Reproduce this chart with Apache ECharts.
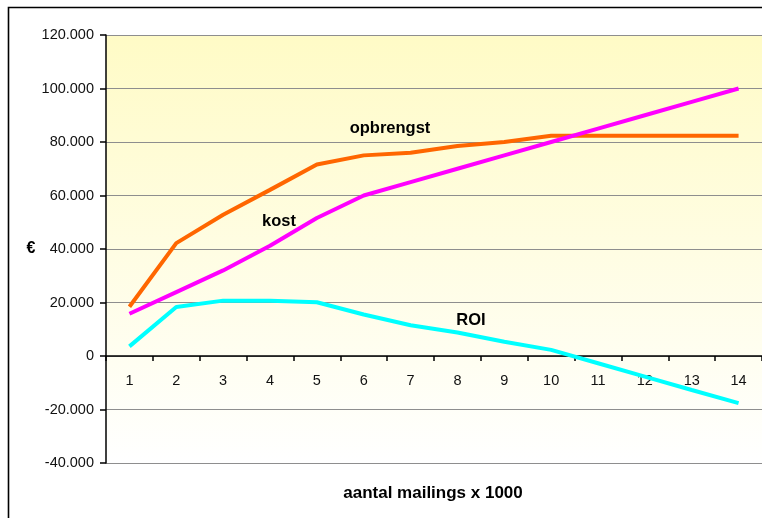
<!DOCTYPE html>
<html>
<head>
<meta charset="utf-8">
<script src="https://cdn.jsdelivr.net/npm/echarts@6/dist/echarts.min.js"></script>
<style>
  html, body { margin: 0; padding: 0; background: #fff; }
  #chart { width: 762px; height: 518px; }
</style>
</head>
<body>
<div id="chart"></div>
<script>
// Number of mailings (x 1000)
const categories = ['1', '2', '3', '4', '5', '6', '7', '8', '9', '10', '11', '12', '13', '14'];

// Revenue, cost and return per step (euro)
const opbrengst = [18400, 42200, 52800, 62100, 71600, 75000, 76000, 78500, 80000, 82300, 82300, 82300, 82300, 82300];
const kost      = [15800, 23900, 32000, 41200, 51600, 60000, 65000, 70000, 75000, 80000, 85000, 90000, 95000, 100000];
const roi       = [3600, 18300, 20700, 20700, 20100, 15500, 11500, 8800, 5300, 2300, -2700, -7700, -12700, -17600];

// Value axis range
const yMin = -40000, yMax = 120000, yStep = 20000;

const FONT = '"Liberation Sans", Arial, sans-serif';

// Plot box
const GRID = { left: 106, top: 35, right: 0, bottom: 55 };
const plotHeight = 518 - GRID.top - GRID.bottom;
// Category axis sits on the zero line, labels included
const zeroOffset = plotHeight * (0 - yMin) / (yMax - yMin);

// Dutch thousands separator: 120.000
function fmt(v) {
  if (v === 0) return '0';
  const s = Math.abs(v).toString().replace(/\B(?=(\d{3})+(?!\d))/g, '.');
  return (v < 0 ? '-' : '') + s;
}

const chart = echarts.init(document.getElementById('chart'), null, { renderer: 'canvas' });

const lineSeries = (name, data, color) => ({
  name, type: 'line', data,
  symbol: 'none',
  lineStyle: { color, width: 4 },
  itemStyle: { color },
  z: 3,
  animation: false
});

chart.setOption({
  animation: false,
  backgroundColor: '#fff',
  textStyle: { fontFamily: FONT },
  grid: Object.assign({}, GRID, {
    show: true,
    borderWidth: 0,
    backgroundColor: new echarts.graphic.LinearGradient(0, 0, 0, 1, [
      { offset: 0, color: '#FFFBC6' },
      { offset: 1, color: '#FFFFFF' }
    ])
  }),
  xAxis: {
    type: 'category',
    data: categories,
    boundaryGap: true,
    position: 'bottom',
    offset: -zeroOffset,
    axisLine: { onZero: false, lineStyle: { color: '#000', width: 1.5 } },
    axisTick: { show: true, length: 5, inside: false, lineStyle: { color: '#000', width: 1.5 } },
    axisLabel: { color: '#111', fontSize: 14.5, fontFamily: FONT, margin: 17 },
    splitLine: { show: false }
  },
  yAxis: {
    type: 'value',
    min: yMin, max: yMax, interval: yStep,
    axisLine: { show: true, onZero: false, lineStyle: { color: '#000', width: 1.5 } },
    axisTick: { show: true, length: 6, lineStyle: { color: '#000', width: 1.5 } },
    axisLabel: { color: '#111', fontSize: 14.5, fontFamily: FONT, margin: 12, formatter: fmt },
    splitLine: { show: true, lineStyle: { color: '#8E8E8E', width: 1.2 } }
  },
  series: [
    lineSeries('opbrengst', opbrengst, '#FF6600'),
    lineSeries('kost', kost, '#FF00FF'),
    lineSeries('ROI', roi, '#00FFFF')
  ],
  graphic: [
    { type: 'rect', silent: true, z: 100,
      shape: { x: 8.5, y: 7.5, width: 900, height: 700 },
      style: { fill: 'none', stroke: '#000', lineWidth: 1.6 } },
    { type: 'text', x: 31, y: 249, z: 100,
      style: { text: '€', fontFamily: FONT, fontWeight: 'bold', fontSize: 16, fill: '#000', align: 'center', verticalAlign: 'middle' } },
    { type: 'text', x: 433, y: 493, z: 100,
      style: { text: 'aantal mailings x 1000', fontFamily: FONT, fontWeight: 'bold', fontSize: 17, fill: '#000', align: 'center', verticalAlign: 'middle' } },
    { type: 'text', x: 390, y: 128, z: 100,
      style: { text: 'opbrengst', fontFamily: FONT, fontWeight: 'bold', fontSize: 16.5, fill: '#000', align: 'center', verticalAlign: 'middle' } },
    { type: 'text', x: 279, y: 221, z: 100,
      style: { text: 'kost', fontFamily: FONT, fontWeight: 'bold', fontSize: 16.5, fill: '#000', align: 'center', verticalAlign: 'middle' } },
    { type: 'text', x: 471, y: 320, z: 100,
      style: { text: 'ROI', fontFamily: FONT, fontWeight: 'bold', fontSize: 16.5, fill: '#000', align: 'center', verticalAlign: 'middle' } }
  ]
});
</script>
</body>
</html>
